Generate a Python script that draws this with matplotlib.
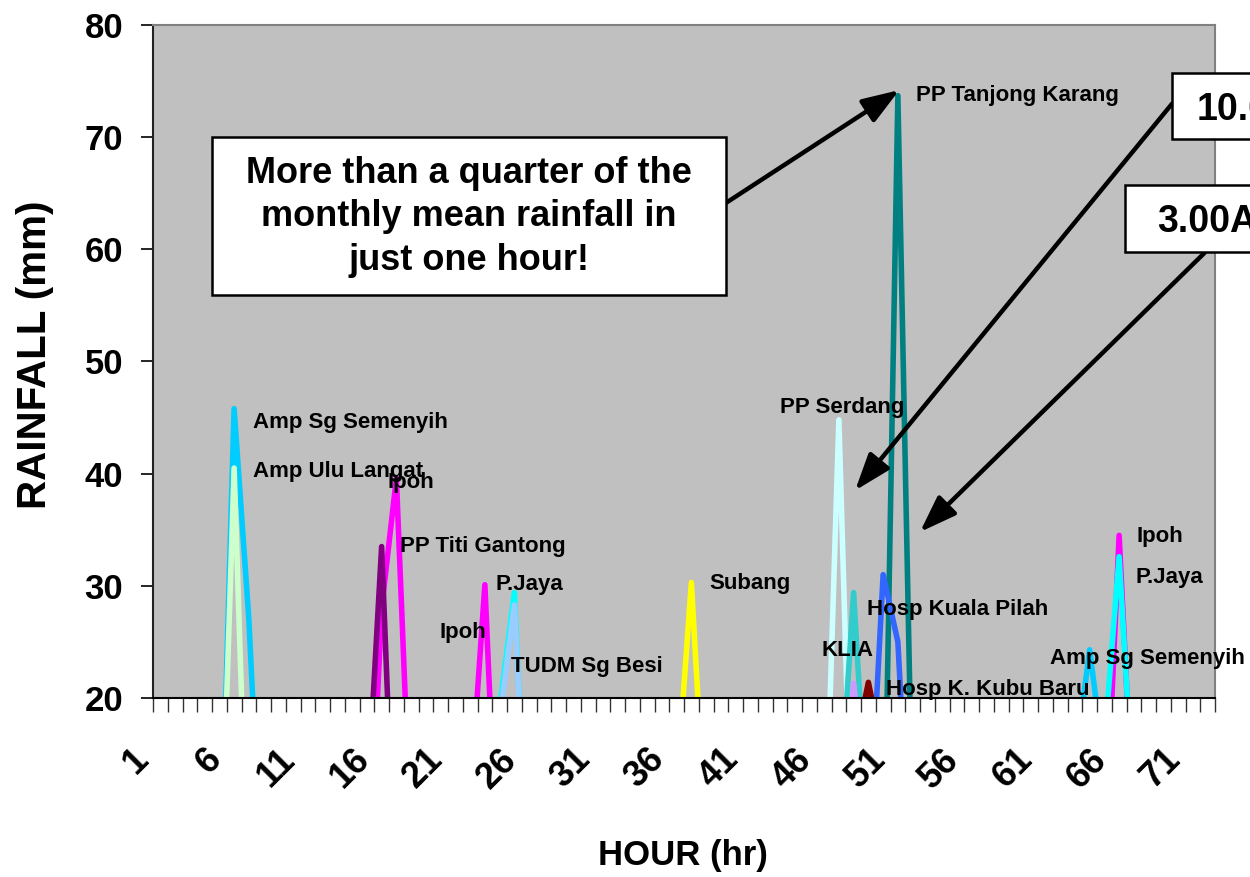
import matplotlib
matplotlib.use("Agg")
import matplotlib.pyplot as plt
from matplotlib.patches import Rectangle
from matplotlib import transforms

plt.rcParams['font.family'] = ['Liberation Sans', 'DejaVu Sans']
plt.rcParams['font.weight'] = 'bold'

# hourly rainfall (mm) per station, only the hours around each burst
semenyih_hr = [5, 6, 7, 8, 62, 63, 64, 65, 66]
semenyih_mm = [0, 45.8, 27, 0, 0, 14, 24.3, 14, 0]
ipoh_hr = [15, 16, 17, 18, 19, 21, 22, 23, 24, 64, 65, 66, 67, 68]
ipoh_mm = [0, 28, 39.6, 7, 0, 0, 11, 30.1, 0, 0, 5, 34.5, 8, 0]
pjaya_hr = [23, 24, 25, 26, 64, 65, 66, 67, 68]
pjaya_mm = [0, 19, 29.4, 0, 0, 16, 32.6, 10, 0]
ulu_langat_hr = [5, 6, 7]
ulu_langat_mm = [0, 40.5, 0]
titi_gantong_hr = [14, 15, 16, 17]
titi_gantong_mm = [0, 10, 33.5, 0]
tudm_hr = [23, 24, 25, 26, 27]
tudm_mm = [0, 18, 28.3, 2, 0]
subang_hr = [35, 36, 37, 38, 39]
subang_mm = [0, 12, 30.3, 7, 0]
serdang_hr = [45, 46, 47, 48]
serdang_mm = [0, 3, 44.8, 0]
klia_hr = [46, 47, 48, 49, 50]
klia_mm = [0, 9, 29.4, 7, 0]
other_hr = [47, 48, 49]
other_mm = [0, 21.3, 10]
kubu_baru_hr = [47, 48, 49, 50, 51]
kubu_baru_mm = [0, 15, 21.4, 15, 0]
tanjong_hr = [49, 50, 51, 52, 53]
tanjong_mm = [0, 0, 73.7, 8, 0]
kuala_pilah_hr = [48, 49, 50, 51, 52]
kuala_pilah_mm = [0, 6, 31, 25, 0]

hour_ticks = [1, 6, 11, 16, 21, 26, 31, 36, 41, 46, 51, 56, 61, 66, 71]
y_ticks = [20, 30, 40, 50, 60, 70, 80]

series = [
    (semenyih_hr, semenyih_mm, '#00CCFF'),
    (ipoh_hr, ipoh_mm, '#FF00FF'),
    (pjaya_hr, pjaya_mm, '#00FFFF'),
    (ulu_langat_hr, ulu_langat_mm, '#CCFFCC'),
    (titi_gantong_hr, titi_gantong_mm, '#800080'),
    (tudm_hr, tudm_mm, '#99CCFF'),
    (subang_hr, subang_mm, '#FFFF00'),
    (serdang_hr, serdang_mm, '#CCFFFF'),
    (klia_hr, klia_mm, '#33CCCC'),
    (other_hr, other_mm, '#CC99FF'),
    (kubu_baru_hr, kubu_baru_mm, '#800000'),
    (tanjong_hr, tanjong_mm, '#008080'),
    (kuala_pilah_hr, kuala_pilah_mm, '#3366FF'),
]

fig = plt.figure(figsize=(12.5, 8.77), dpi=100)
ax = fig.add_axes([0.1224, 0.2041, 0.8496, 0.7674])
ax.set_facecolor('#C0C0C0')

for hr, mm, col in series:
    ax.plot(hr, mm, color=col, lw=4, solid_joinstyle='round', solid_capstyle='round')

ax.set_xlim(0.5, 72.5)
ax.set_ylim(20, 80)
ax.set_yticks(y_ticks)
ax.tick_params(axis='y', direction='out', length=8.6, width=1.2, pad=13, labelsize=25)
for t in ax.get_yticklabels():
    t.set_fontweight('bold')

# tick marks between the hours, labels every 5 h
ax.set_xticks([i + 0.5 for i in range(0, 73)])
ax.set_xticklabels([])
ax.tick_params(axis='x', direction='out', length=10, width=1, color='#333333')
lab_tr = transforms.offset_copy(ax.get_xaxis_transform(), fig=fig, x=-30, y=-44, units='dots')
for h in hour_ticks:
    ax.text(h, 0, str(h), transform=lab_tr, rotation=45, rotation_mode='anchor',
            ha='right', va='top', fontsize=26, fontweight='bold')

for side in ['top', 'right']:
    ax.spines[side].set_color('#808080')
    ax.spines[side].set_linewidth(1.5)
ax.spines['left'].set_color('#222222')
ax.spines['bottom'].set_color('black')
ax.spines['left'].set_linewidth(1.5)
ax.spines['bottom'].set_linewidth(1.5)

fig.text(683 / 1250, 1 - 855 / 877, 'HOUR (hr)', ha='center', va='center', fontsize=25, fontweight='bold')
fig.text(35 / 1250, 1 - 355 / 877, 'RAINFALL (mm)', ha='center', va='center', rotation=90,
         fontsize=29, fontweight='bold')

# station labels
names = ['Amp Sg Semenyih', 'Amp Ulu Langat', 'Ipoh', 'PP Titi Gantong', 'P.Jaya', 'Ipoh',
         'TUDM Sg Besi', 'Subang', 'PP Serdang', 'KLIA', 'Hosp Kuala Pilah',
         'Hosp K. Kubu Baru', 'PP Tanjong Karang', 'Amp Sg Semenyih', 'Ipoh', 'P.Jaya']
name_pos = [(7.28, 44.6), (7.28, 40.2), (16.4, 39.2), (17.25, 33.5), (23.7, 30.1), (19.9, 25.8),
            (24.8, 22.8), (38.2, 30.2), (43.0, 45.9), (45.8, 24.2), (48.9, 27.9),
            (50.2, 20.8), (52.2, 73.7), (61.3, 23.5), (67.2, 34.4), (67.1, 30.7)]
for name, (x, y) in zip(names, name_pos):
    ax.text(x, y, name, ha='left', va='center', fontsize=16, fontweight='bold', clip_on=False)

# arrows
arr = dict(arrowstyle='-|>,head_length=0.9,head_width=0.32', lw=3.2, color='black',
           mutation_scale=25, shrinkA=0, shrinkB=0)
ax.annotate('', xy=(51.1, 74.2), xytext=(39.3, 64.1), arrowprops=arr, annotation_clip=False)
ax.annotate('', xy=(48.1, 38.5), xytext=(69.6, 73.0), arrowprops=arr, annotation_clip=False)
ax.annotate('', xy=(52.5, 34.8), xytext=(71.8, 59.7), arrowprops=arr, annotation_clip=False)

# text boxes
def box(x0, y0, x1, y1):
    fig.add_artist(Rectangle((x0 / 1250, 1 - y1 / 877), (x1 - x0) / 1250, (y1 - y0) / 877,
                             transform=fig.transFigure, facecolor='white', edgecolor='black', lw=1.8))

box(212, 137, 726, 295)
fig.text(469 / 1250, 1 - 217 / 877, 'More than a quarter of the\nmonthly mean rainfall in\njust one hour!',
         ha='center', va='center', fontsize=26, fontweight='bold', linespacing=1.3)
box(1172, 73, 1270, 139)
fig.text(1197 / 1250, 1 - 120 / 877, '10.00PM', ha='left', va='baseline', fontsize=27, fontweight='bold')
box(1125, 185, 1270, 252)
fig.text(1157 / 1250, 1 - 232 / 877, '3.00AM', ha='left', va='baseline', fontsize=27, fontweight='bold')

fig.savefig('out.png', dpi=100)
